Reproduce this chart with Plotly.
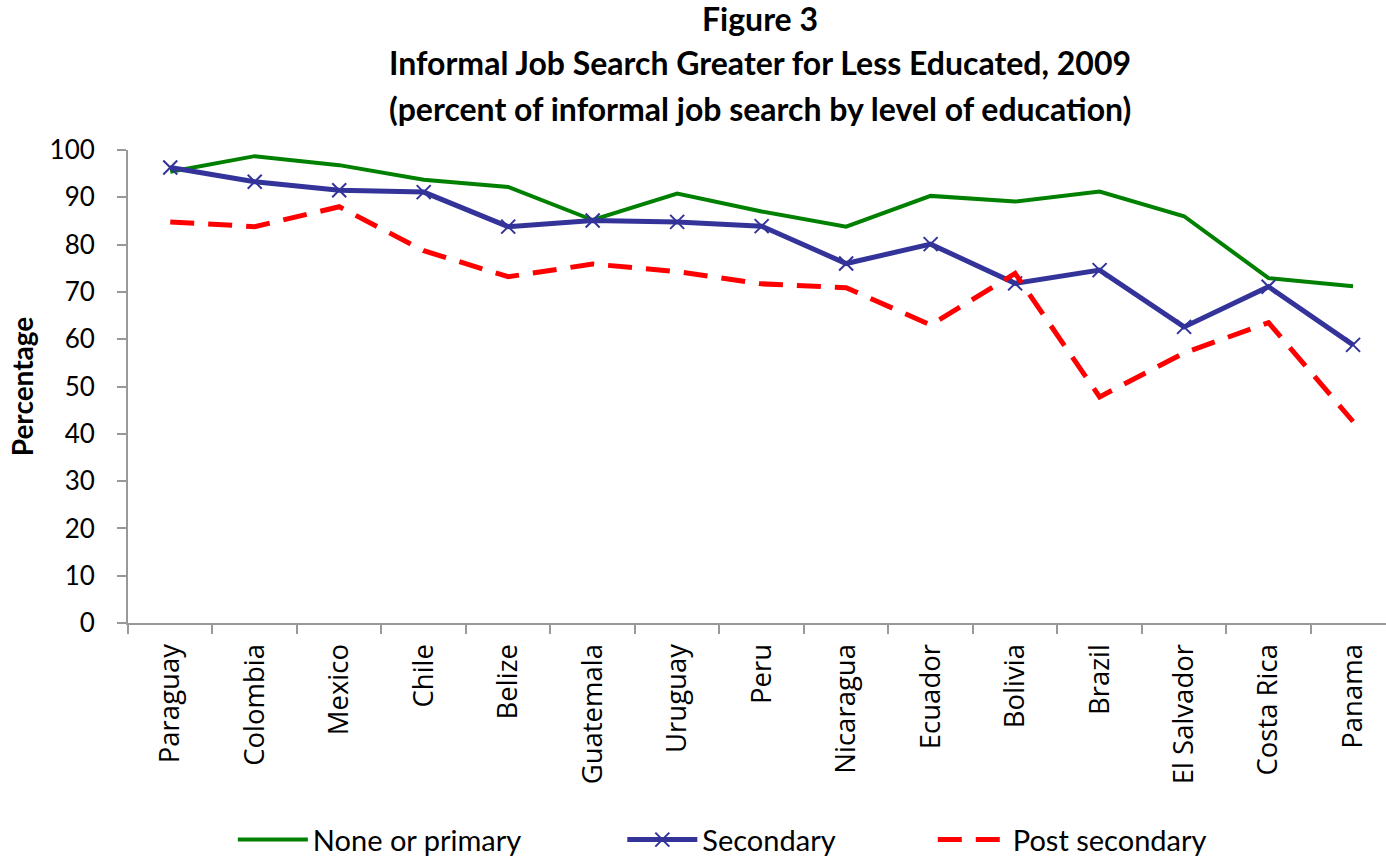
import plotly.graph_objects as go

countries = ["Paraguay", "Colombia", "Mexico", "Chile", "Belize", "Guatemala", "Uruguay",
             "Peru", "Nicaragua", "Ecuador", "Bolivia", "Brazil", "El Salvador", "Costa Rica", "Panama"]
none_or_primary = [95.4, 98.7, 96.8, 93.7, 92.2, 85.2, 90.8, 87.0, 83.8, 90.3, 89.1, 91.2, 86.0, 72.9, 71.2]
secondary = [96.3, 93.3, 91.5, 91.1, 83.8, 85.1, 84.8, 83.9, 76.0, 80.1, 71.8, 74.6, 62.6, 71.1, 58.8]
post_secondary = [84.8, 83.8, 88.0, 78.7, 73.2, 75.9, 74.3, 71.7, 70.9, 63.0, 73.9, 47.8, 57.1, 63.5, 42.6]
y_ticks = [0, 10, 20, 30, 40, 50, 60, 70, 80, 90, 100]
title_lines = ["Figure 3",
               "Informal Job Search Greater for Less Educated, 2009",
               "(percent of informal job search by level of education)"]

fig = go.Figure()
fig.add_trace(go.Scatter(x=countries, y=none_or_primary, name="None or primary", mode="lines",
                         line=dict(color="#008000", width=4), legend="legend"))
fig.add_trace(go.Scatter(x=countries, y=secondary, name="Secondary", mode="lines+markers",
                         line=dict(color="#333399", width=5),
                         marker=dict(symbol="x-thin", size=14, line=dict(color="#333399", width=2)),
                         legend="legend2"))
fig.add_trace(go.Scatter(x=countries, y=post_secondary, name="Post secondary", mode="lines",
                         line=dict(color="#FF0000", width=5, dash="24px,14px"), legend="legend3"))

leg_common = dict(orientation="h", xref="container", xanchor="left",
                  yref="container", y=0.019, yanchor="middle",
                  font=dict(family="Lato", size=29, color="black"),
                  itemwidth=70, bgcolor="rgba(0,0,0,0)")

fig.update_layout(
    width=1386, height=856,
    margin=dict(l=128, r=0, t=150, b=233, autoexpand=False),
    paper_bgcolor="white", plot_bgcolor="white",
    showlegend=True,
    legend=dict(x=0.168, **leg_common),
    legend2=dict(x=0.449, **leg_common),
    legend3=dict(x=0.673, **leg_common),
    font=dict(family="Lato", color="black"),
)
title_y = [1.279, 1.184, 1.087]
title_anchor = ["middle", "middle", "middle"]
for txt, yy, ya in zip(title_lines, title_y, title_anchor):
    fig.add_annotation(text=f"<b>{txt}</b>", xref="paper", yref="paper", x=0.5025, y=yy,
                       xanchor="center", yanchor=ya, showarrow=False, borderpad=0,
                       font=dict(family="Lato", size=32, color="black"))

fig.update_xaxes(
    type="category", range=[-0.5, 14.39], automargin=False,
    showline=True, linecolor="#999999", linewidth=2,
    ticks="outside", tickson="boundaries", ticklen=9, tickcolor="#999999", tickwidth=2,
    tickangle=-90, tickfont=dict(family="Open Sans", size=27.5, color="black"),
    ticklabelstandoff=8,
    showgrid=False, zeroline=False,
)
fig.update_yaxes(
    range=[0, 100], tickvals=y_ticks, automargin=False,
    showline=True, linecolor="#999999", linewidth=2,
    ticks="outside", ticklen=9, tickcolor="#999999", tickwidth=2,
    tickfont=dict(family="Lato", size=26, color="black"),
    ticklabelstandoff=17,
    showgrid=False, zeroline=False,
    title=dict(text="<b>Percentage</b>", font=dict(family="Lato", size=28, color="black"), standoff=8),
)
fig.write_html("out.html")
